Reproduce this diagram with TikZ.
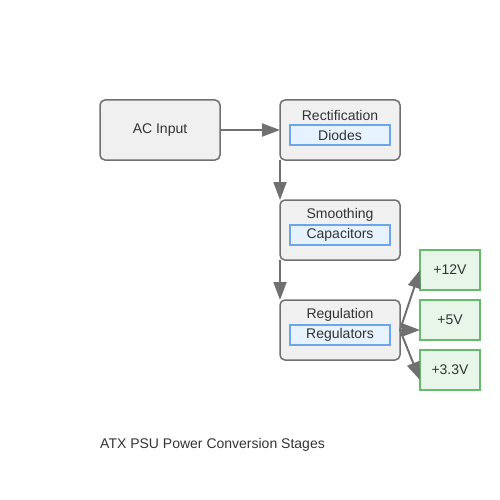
\documentclass[tikz,border=0pt]{standalone}
\usepackage{fontspec}
\setmainfont{Liberation Sans}
\usetikzlibrary{positioning,arrows.meta}
\definecolor{stagefill}{HTML}{F0F0F0}
\definecolor{stageline}{HTML}{707070}
\definecolor{partfill}{HTML}{E6F2FD}
\definecolor{partline}{HTML}{6CA6EA}
\definecolor{outfill}{HTML}{E8F5E9}
\definecolor{outline}{HTML}{66BB6A}
\definecolor{textgray}{HTML}{333333}
\tikzset{
    stage-box/.style = {draw=stageline, fill=stagefill, line width=1.5pt, rectangle, rounded corners=5pt, minimum width=120pt, minimum height=60pt, inner sep=0pt, outer sep=0pt},
    part-box/.style = {draw=partline, fill=partfill, line width=1.5pt, rectangle, minimum width=100pt, minimum height=20pt, inner sep=0pt, outer sep=0pt, text=textgray},
    out-box/.style = {draw=outline, fill=outfill, line width=1.5pt, rectangle, minimum width=60pt, minimum height=40pt, inner sep=0pt, outer sep=0pt, text=textgray},
    stage-title/.style = {text=textgray, inner sep=0pt},
    flow-arrow/.style = {draw=stageline, line width=2pt, -{Triangle[length=18pt,width=13pt]}},
}

\begin{document}
\begin{tikzpicture}[x=1pt, y=-1pt, font=\fontsize{14}{16}\selectfont]
\useasboundingbox (0,0) rectangle (500,500);
% stages
\node [stage-box, text=textgray] (ac) at (160,130) {AC Input};
\node [stage-box, right=60pt of ac] (rect) {};
\node [stage-box, below=40pt of rect] (smooth) {};
\node [stage-box, below=40pt of smooth] (reg) {};
\node [stage-title] at ([yshift=15pt]rect.center) {Rectification};
\node [part-box] (diodes) at ([yshift=-5pt]rect.center) {Diodes};
\node [stage-title] at ([yshift=15pt]smooth.center) {Smoothing};
\node [part-box] (caps) at ([yshift=-5pt]smooth.center) {Capacitors};
\node [stage-title] at ([yshift=15pt]reg.center) {Regulation};
\node [part-box] (regs) at ([yshift=-5pt]reg.center) {Regulators};
% outputs
\node [out-box] (v12) at (450,270) {+12V};
\node [out-box] (v5) at (450,320) {+5V};
\node [out-box] (v33) at (450,370) {+3.3V};
\coordinate (v5in) at ([yshift=-10pt]v5.west);
\coordinate (v33in) at ([yshift=-10pt]v33.west);
% arrows
\draw [flow-arrow] (ac) -- (rect);
\draw [flow-arrow] (rect.south west) -- (smooth.north west);
\draw [flow-arrow] (smooth.south west) -- (reg.north west);
\draw [flow-arrow] (reg.east) -- (v12.west);
\draw [flow-arrow] (reg.east) -- (v5in);
\draw [flow-arrow] (reg.east) -- (v33in);
\node [stage-title, anchor=west] (caption) at (100,445) {ATX PSU Power Conversion Stages};
\end{tikzpicture}
\end{document}
